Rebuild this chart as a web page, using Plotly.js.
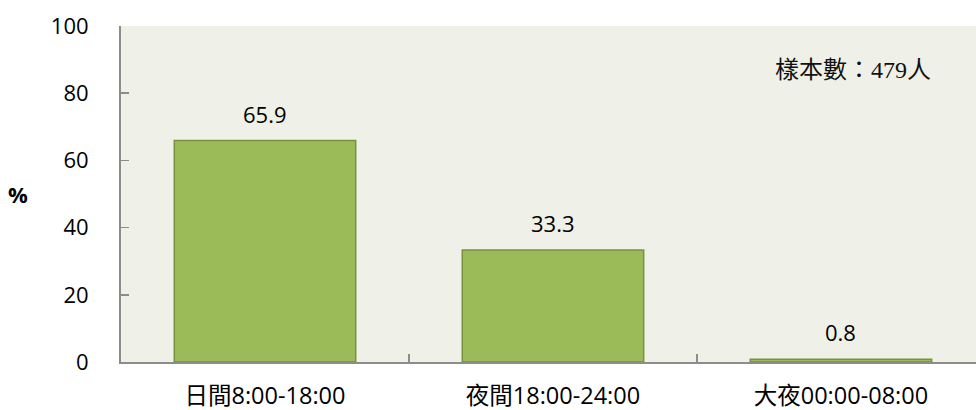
<!DOCTYPE html>
<html>
<head>
<meta charset="utf-8">
<script src="https://cdn.plot.ly/plotly-3.0.1.min.js"></script>
<style>html,body{margin:0;padding:0;background:#fff;}#chart{width:976px;height:410px;}</style>
</head>
<body>
<div id="chart"></div>
<script>
const categories = ["日間8:00-18:00", "夜間18:00-24:00", "大夜00:00-08:00"];
const values = [65.9, 33.3, 0.8];
const valueLabels = ["65.9", "33.3", "0.8"];
const yTickVals = [0, 20, 40, 60, 80, 100];
const sampleNote = "樣本數：479人";
const yUnit = "%";

const FONT = "'Open Sans', 'Noto Sans CJK TC', sans-serif";

const trace = {
  type: "bar",
  x: categories,
  y: values,
  width: 0.63,
  marker: {color: "#9BBB59", line: {color: "#77933C", width: 1.5}},
  hoverinfo: "none"
};

const annotations = categories.map((c, i) => ({
  x: c, y: values[i], xref: "x", yref: "y",
  text: valueLabels[i], showarrow: false,
  yanchor: "bottom", yshift: 10,
  font: {family: FONT, size: 22, color: "#000"}
}));
annotations.push({
  xref: "paper", yref: "paper", x: 0.856, y: 0.869,
  text: sampleNote, showarrow: false, xanchor: "center", yanchor: "middle",
  font: {family: "'Liberation Serif', 'Noto Sans CJK TC', serif", size: 24, color: "#111"}
});
annotations.push({
  xref: "paper", yref: "paper", x: -0.1205, y: 0.5,
  text: "<b>" + yUnit + "</b>", showarrow: false, xanchor: "center", yanchor: "middle",
  font: {family: FONT, size: 22, color: "#000"}
});

const layout = {
  width: 976, height: 410,
  margin: {l: 121, r: 0, t: 26, b: 48, pad: 0},
  paper_bgcolor: "#FFFFFF",
  plot_bgcolor: "#EFF1E8",
  showlegend: false,
  xaxis: {
    type: "category",
    range: [-0.5, 2.469],
    tickson: "boundaries",
    ticks: "inside", ticklen: 8, tickwidth: 1.5, tickcolor: "#8C8C8C",
    showline: true, linecolor: "#8C8C8C", linewidth: 2,
    showgrid: false, zeroline: false,
    ticklabelstandoff: 12,
    tickfont: {family: FONT, size: 23.5, color: "#000"}
  },
  yaxis: {
    range: [0, 100],
    tickvals: yTickVals,
    ticks: "inside", ticklen: 8, tickwidth: 1.5, tickcolor: "#8C8C8C",
    showline: true, linecolor: "#8C8C8C", linewidth: 2,
    showgrid: false, zeroline: false,
    ticklabelstandoff: 26,
    tickfont: {family: FONT, size: 22, color: "#000"}
  },
  annotations: annotations
};

Plotly.newPlot("chart", [trace], layout, {displayModeBar: false, staticPlot: true});
</script>
</body>
</html>
